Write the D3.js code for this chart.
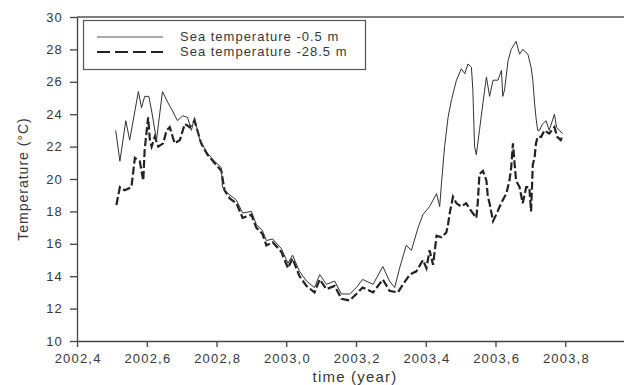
<!DOCTYPE html>
<html>
<head>
<meta charset="utf-8">
<script src="https://cdn.jsdelivr.net/npm/d3@7"></script>
<style>
  body { margin: 0; background: #fff; }
  text { font-family: Arial, "Liberation Sans", sans-serif; fill: #383838; }
</style>
</head>
<body>
<div id="chart"></div>
<script>
// surface sensor (-0.5 m)
const surfaceYears = [2002.511, 2002.523, 2002.540, 2002.551, 2002.576, 2002.585, 2002.594, 2002.606, 2002.614, 2002.628,
  2002.645, 2002.661, 2002.674, 2002.688, 2002.703, 2002.717, 2002.728, 2002.737, 2002.752, 2002.774,
  2002.794, 2002.814, 2002.817, 2002.833, 2002.857, 2002.875, 2002.900, 2002.914, 2002.932, 2002.943,
  2002.961, 2002.986, 2003.005, 2003.018, 2003.038, 2003.058, 2003.081, 2003.096, 2003.115, 2003.139,
  2003.158, 2003.182, 2003.201, 2003.219, 2003.249, 2003.277, 2003.296, 2003.311, 2003.325, 2003.344,
  2003.359, 2003.378, 2003.392, 2003.411, 2003.431, 2003.440, 2003.445, 2003.454, 2003.464, 2003.474,
  2003.488, 2003.502, 2003.512, 2003.521, 2003.531, 2003.535, 2003.540, 2003.545, 2003.554, 2003.564,
  2003.574, 2003.583, 2003.593, 2003.607, 2003.617, 2003.621, 2003.626, 2003.636, 2003.645, 2003.659,
  2003.669, 2003.678, 2003.693, 2003.702, 2003.707, 2003.712, 2003.716, 2003.721, 2003.726, 2003.735,
  2003.745, 2003.754, 2003.769, 2003.775, 2003.783, 2003.793];
const surfaceTemp = [23.0, 21.1, 23.6, 22.4, 25.4, 24.4, 25.1, 25.1, 24.2, 22.4,
  25.4, 24.7, 24.2, 23.6, 23.9, 23.8, 23.0, 23.8, 22.4, 21.6,
  21.1, 20.7, 19.5, 19.1, 18.7, 17.9, 18.0, 17.2, 16.8, 16.2,
  16.3, 15.7, 14.8, 15.3, 14.3, 13.7, 13.3, 14.1, 13.5, 13.7,
  12.9, 12.9, 13.3, 13.8, 13.5, 14.6, 13.7, 13.3, 14.5, 15.9,
  15.6, 17.0, 17.8, 18.3, 19.1, 18.3, 19.7, 22.0, 23.8, 24.9,
  26.1, 26.8, 26.5, 27.1, 26.9, 25.5, 22.0, 21.5, 23.0, 24.7,
  26.3, 25.1, 26.1, 26.1, 26.7, 25.1, 25.5, 27.3, 28.0, 28.5,
  27.7, 28.0, 27.7, 26.9, 26.1, 24.7, 23.8, 23.0, 23.0, 23.4,
  23.6, 23.0, 24.0, 23.2, 23.0, 22.8];

// deep sensor (-28.5 m)
const deepYears = [2002.513, 2002.523, 2002.537, 2002.556, 2002.566, 2002.580, 2002.590, 2002.594, 2002.604, 2002.609,
  2002.614, 2002.623, 2002.633, 2002.647, 2002.657, 2002.666, 2002.680, 2002.695, 2002.709, 2002.723,
  2002.737, 2002.756, 2002.774, 2002.794, 2002.814, 2002.823, 2002.838, 2002.857, 2002.875, 2002.900,
  2002.914, 2002.932, 2002.943, 2002.961, 2002.986, 2003.005, 2003.018, 2003.038, 2003.058, 2003.081,
  2003.096, 2003.115, 2003.139, 2003.158, 2003.182, 2003.201, 2003.219, 2003.249, 2003.277, 2003.296,
  2003.320, 2003.335, 2003.354, 2003.373, 2003.392, 2003.402, 2003.411, 2003.421, 2003.431, 2003.445,
  2003.459, 2003.464, 2003.468, 2003.478, 2003.488, 2003.502, 2003.516, 2003.531, 2003.545, 2003.549,
  2003.554, 2003.564, 2003.574, 2003.578, 2003.583, 2003.593, 2003.602, 2003.612, 2003.621, 2003.631,
  2003.640, 2003.645, 2003.650, 2003.655, 2003.659, 2003.669, 2003.678, 2003.688, 2003.697, 2003.702,
  2003.707, 2003.712, 2003.716, 2003.721, 2003.731, 2003.740, 2003.754, 2003.769, 2003.777, 2003.787,
  2003.791];
const deepTemp = [18.4, 19.5, 19.3, 19.5, 21.3, 21.1, 19.9, 21.8, 23.8, 22.4,
  22.0, 22.6, 22.0, 22.2, 23.0, 23.2, 22.2, 22.4, 23.4, 23.2,
  23.6, 22.2, 21.5, 21.0, 20.5, 19.3, 18.8, 18.5, 17.6, 17.8,
  17.0, 16.6, 15.9, 16.1, 15.5, 14.5, 15.1, 14.0, 13.4, 13.0,
  13.8, 13.2, 13.4, 12.6, 12.5, 12.9, 13.3, 13.0, 13.8, 13.1,
  13.0, 13.5, 14.1, 14.3, 15.0, 14.5, 15.6, 14.7, 16.5, 16.4,
  16.7, 17.2, 17.8, 18.9, 18.5, 18.3, 18.5, 18.0, 17.6, 18.5,
  20.3, 20.5, 19.9, 18.9, 18.5, 17.4, 17.8, 18.3, 18.7, 19.1,
  19.9, 20.7, 22.2, 20.9, 19.9, 19.5, 18.5, 19.5, 19.5, 18.0,
  20.9, 21.3, 22.2, 22.6, 22.6, 23.0, 22.8, 23.2, 22.6, 22.4,
  22.6];

const xTicks = [2002.4, 2002.6, 2002.8, 2003.0, 2003.2, 2003.4, 2003.6, 2003.8];
const yTicks = [10, 12, 14, 16, 18, 20, 22, 24, 26, 28, 30];
const seriesNames = ["Sea temperature -0.5 m", "Sea temperature -28.5 m"];

const W = 624, H = 385;
const margin = { top: 17, left: 77, bottom: 341 };

const svg = d3.select("#chart").append("svg")
  .attr("width", W)
  .attr("height", H);

// the frame runs past the right edge of the picture
const x = d3.scaleLinear().domain([2002.4, 2004.0]).range([margin.left, 635]);
const y = d3.scaleLinear().domain([10, 30]).range([margin.bottom, margin.top]);

const comma = d => d3.format(".1f")(d).replace(".", ",");

// axes
const xAxis = svg.append("g")
  .attr("transform", `translate(0,${margin.bottom})`)
  .call(d3.axisBottom(x).tickValues(xTicks).tickSize(6).tickSizeOuter(0).tickFormat(comma));
const yAxis = svg.append("g")
  .attr("transform", `translate(${margin.left},0)`)
  .call(d3.axisLeft(y).tickValues(yTicks).tickSize(7).tickSizeOuter(0).tickFormat(d3.format("d")));

[xAxis, yAxis].forEach(g => {
  g.select(".domain").attr("stroke", "#444").attr("stroke-width", 1.3);
  g.selectAll(".tick line").attr("stroke", "#444").attr("stroke-width", 1.3);
  g.selectAll(".tick text")
    .attr("fill", "#383838")
    .attr("font-size", "13px")
    .attr("letter-spacing", "1.2px")
    .attr("font-family", "Arial, 'Liberation Sans', sans-serif");
});
xAxis.selectAll(".tick text").attr("dy", "1.0em").attr("dx", "0.6px");
yAxis.selectAll(".tick text").attr("x", -14);

// top border
svg.append("line")
  .attr("x1", margin.left).attr("x2", W)
  .attr("y1", margin.top).attr("y2", margin.top)
  .attr("stroke", "#555").attr("stroke-width", 1.3);

// axis titles
svg.append("text")
  .attr("transform", `translate(28,${(margin.top + margin.bottom) / 2}) rotate(-90)`)
  .attr("text-anchor", "middle")
  .attr("font-size", "14px")
  .attr("letter-spacing", "1px")
  .text("Temperature (°C)");
svg.append("text")
  .attr("x", 355)
  .attr("y", 382)
  .attr("text-anchor", "middle")
  .attr("font-size", "15px")
  .attr("letter-spacing", "1.2px")
  .text("time (year)");

// series
const surface = surfaceYears.map((t, i) => ({ t: t, v: surfaceTemp[i] }));
const deep = deepYears.map((t, i) => ({ t: t, v: deepTemp[i] }));
const line = d3.line().x(d => x(d.t)).y(d => y(d.v));

svg.append("path")
  .datum(deep)
  .attr("fill", "none")
  .attr("stroke", "#222")
  .attr("stroke-width", 2.2)
  .attr("stroke-dasharray", "8,3")
  .attr("d", line);
svg.append("path")
  .datum(surface)
  .attr("fill", "none")
  .attr("stroke", "#333")
  .attr("stroke-width", 1)
  .attr("d", line);

// legend
const legend = svg.append("g");
legend.append("rect")
  .attr("x", 83.5).attr("y", 20.5)
  .attr("width", 282).attr("height", 49)
  .attr("fill", "#fff")
  .attr("stroke", "#555").attr("stroke-width", 1.2);
legend.append("line")
  .attr("x1", 97).attr("x2", 163).attr("y1", 37).attr("y2", 37)
  .attr("stroke", "#555").attr("stroke-width", 1);
legend.append("line")
  .attr("x1", 97).attr("x2", 163).attr("y1", 52).attr("y2", 52)
  .attr("stroke", "#222").attr("stroke-width", 2)
  .attr("stroke-dasharray", "13,5");
legend.selectAll(".lbl")
  .data(seriesNames)
  .join("text")
  .attr("class", "lbl")
  .attr("x", 180)
  .attr("y", (d, i) => 41 + i * 15)
  .attr("font-size", "13px")
  .attr("letter-spacing", "1px")
  .text(d => d);
</script>
</body>
</html>
